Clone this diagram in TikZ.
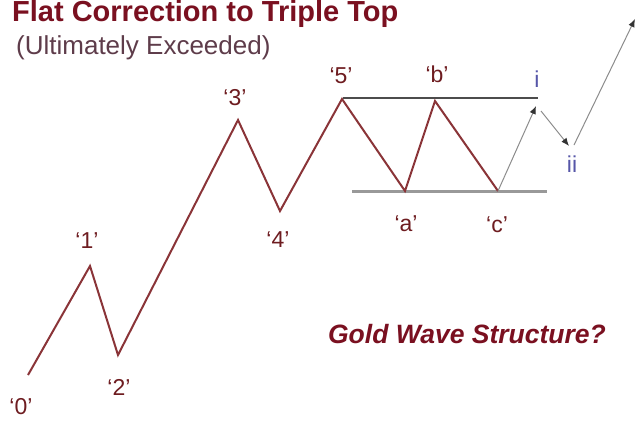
\documentclass[tikz,border=0pt]{standalone}
\usepackage{fontspec}
\setmainfont{Liberation Sans}
\usetikzlibrary{arrows.meta}
\definecolor{wavered}{HTML}{8A3438}
\definecolor{titlered}{HTML}{7A1020}
\definecolor{subgray}{HTML}{5E3C4A}
\definecolor{lblred}{HTML}{6E1C20}
\definecolor{lblblue}{HTML}{5656A8}
\definecolor{arrgray}{HTML}{8C8C8C}
\begin{document}
\begin{tikzpicture}[x=1pt,y=-1pt,
  wave/.style={draw=wavered,line width=2pt,line join=miter},
  lbl/.style={inner sep=0pt,text=lblred,font=\fontsize{23}{24}\selectfont},
  rom/.style={inner sep=0pt,text=lblblue,font=\fontsize{23}{24}\selectfont},
  arr/.style={draw=arrgray,line width=1pt,-{Latex[length=8pt,width=6.5pt,color=black!80,fill=black!80]}},
  topline/.style={draw=black!70,line width=1.6pt},
  botline/.style={draw=black!40,line width=3pt}]
\useasboundingbox (0,0) rectangle (636,421);
\fill[white] (0,0) rectangle (636,421);
% wave points
\coordinate (p0) at (28,375);
\coordinate (p1) at (90,266);
\coordinate (p2) at (118,355);
\coordinate (p3) at (238,120);
\coordinate (p4) at (280,211);
\coordinate (p5) at (342,99);
\coordinate (pa) at (405,191);
\coordinate (pb) at (435,101);
\coordinate (pc) at (498,191);
% horizontal lines
\coordinate (tl0) at (343,98);
\coordinate (tl1) at (538,98);
\coordinate (bl0) at (352,191);
\coordinate (bl1) at (547,191);
\draw[topline] (tl0) -- (tl1);
\draw[botline] (bl0) -- (bl1);
\draw[wave] (p0) -- (p1) -- (p2) -- (p3) -- (p4) -- (p5) -- (pa) -- (pb) -- (pc);
% arrows
\coordinate (ai) at (536,106);
\coordinate (ai2) at (541,111);
\coordinate (aii) at (569,146);
\coordinate (aii2) at (574,145);
\coordinate (aend) at (635,19);
\draw[arr] (pc) -- (ai);
\draw[arr] (ai2) -- (aii);
\draw[arr] (aii2) -- (aend);
% labels
\node[lbl] (l0) at (21,407) {‘0’};
\node[lbl] (l1) at (87,241) {‘1’};
\node[lbl] (l2) at (119,387) {‘2’};
\node[lbl] (l3) at (235,98) {‘3’};
\node[lbl] (l4) at (278,240) {‘4’};
\node[lbl] (l5) at (341,76) {‘5’};
\node[lbl] (la) at (406,224) {‘a’};
\node[lbl] (lb) at (437,74) {‘b’};
\node[lbl] (lc) at (497,225) {‘c’};
\node[rom] (li) at (537,79) {i};
\node[rom] (lii) at (572,164) {ii};
% titles
\node[inner sep=0pt,anchor=base west,text=titlered,font=\fontsize{29}{30}\selectfont\bfseries] (title) at (12,21.5) {Flat Correction to Triple Top};
\node[inner sep=0pt,anchor=base west,text=subgray,font=\fontsize{26}{27}\selectfont] (sub) at (16,54) {(Ultimately Exceeded)};
\node[inner sep=0pt,text=titlered,font=\fontsize{26.5}{28}\selectfont\bfseries\itshape] (gold) at (467,334) {Gold Wave Structure?};
\end{tikzpicture}
\end{document}
